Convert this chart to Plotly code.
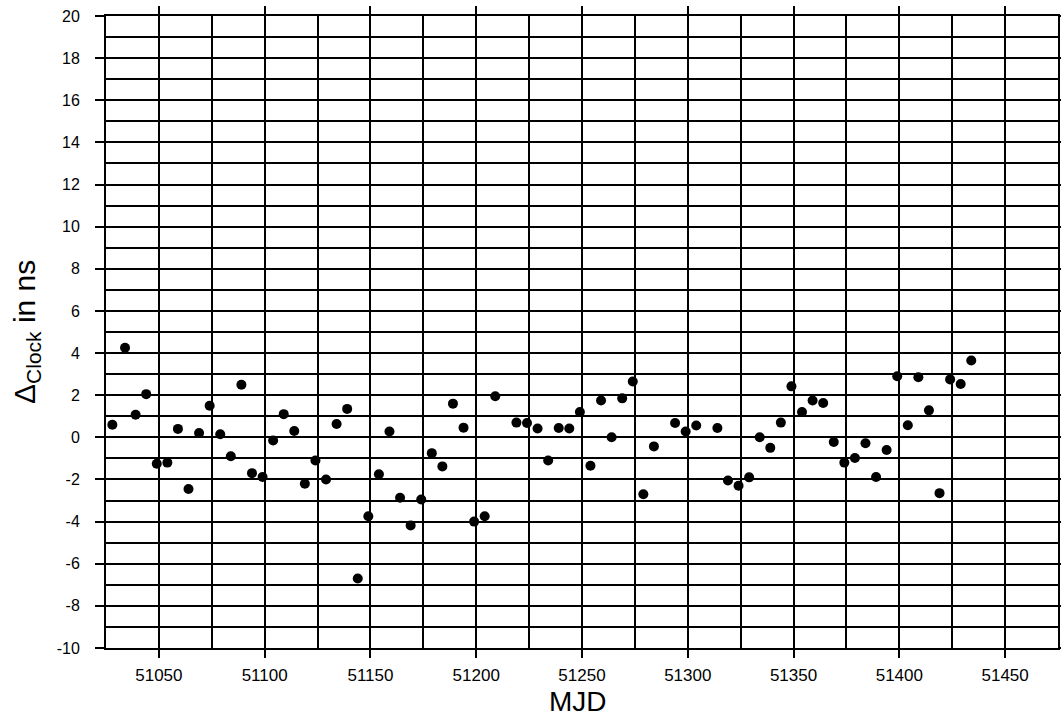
import plotly.graph_objects as go

mjd = [51028, 51034, 51039, 51044, 51049, 51054, 51059, 51064, 51069, 51074,
       51079, 51084, 51089, 51094, 51099, 51104, 51109, 51114, 51119, 51124,
       51129, 51134, 51139, 51144, 51149, 51154, 51159, 51164, 51169, 51174,
       51179, 51184, 51189, 51194, 51199, 51204, 51209, 51219, 51224, 51229,
       51234, 51239, 51244, 51249, 51254, 51259, 51264, 51269, 51274, 51279,
       51284, 51294, 51299, 51304, 51314, 51319, 51324, 51329, 51334, 51339,
       51344, 51349, 51354, 51359, 51364, 51369, 51374, 51379, 51384, 51389,
       51394, 51399, 51404, 51409, 51414, 51419, 51424, 51429, 51434]
dclock = [0.6, 4.25, 1.07, 2.05, -1.25, -1.2, 0.4, -2.45, 0.2, 1.5,
          0.15, -0.9, 2.5, -1.7, -1.88, -0.15, 1.1, 0.3, -2.2, -1.1,
          -2.0, 0.63, 1.35, -6.7, -3.75, -1.75, 0.28, -2.87, -4.18, -2.95,
          -0.75, -1.38, 1.6, 0.46, -4.0, -3.75, 1.95, 0.7, 0.68, 0.42,
          -1.1, 0.44, 0.42, 1.2, -1.35, 1.75, 0.0, 1.85, 2.65, -2.7,
          -0.43, 0.68, 0.28, 0.56, 0.44, -2.05, -2.3, -1.9, 0.0, -0.5,
          0.7, 2.42, 1.2, 1.75, 1.63, -0.22, -1.2, -0.98, -0.28, -1.88,
          -0.6, 2.9, 0.57, 2.85, 1.28, -2.65, 2.75, 2.53, 3.65]

x_ticks = [51050, 51100, 51150, 51200, 51250, 51300, 51350, 51400, 51450]
y_ticks = list(range(-10, 21, 2))
x_title = "MJD"
y_title = "Δ<sub>Clock</sub> in ns"

fig = go.Figure()
fig.add_trace(go.Scatter(
    x=mjd, y=dclock, mode="markers",
    marker=dict(color="black", size=10),
    showlegend=False, cliponaxis=False,
))

font_family = "Liberation Sans, Arial, Helvetica, sans-serif"

fig.update_layout(
    width=1061, height=719,
    margin=dict(l=106, r=3, t=16, b=71),
    paper_bgcolor="white", plot_bgcolor="white",
    font=dict(family=font_family, color="black", size=17),
    xaxis=dict(
        range=[51025, 51475],
        automargin=False,
        tickvals=x_ticks, ticktext=[str(v) for v in x_ticks],
        ticks="outside", ticklen=8, tickwidth=1.5, tickcolor="black",
        showgrid=True, gridcolor="black", gridwidth=1.5,
        minor=dict(dtick=25, tick0=51025, showgrid=True, gridcolor="black",
                   gridwidth=1.5, ticks=""),
        showline=True, linecolor="black", linewidth=2, mirror="ticks",
        zeroline=False,
        tickfont=dict(size=17),
        ticklabelstandoff=3,
    ),
    yaxis=dict(
        range=[-10, 20],
        automargin=False,
        tickvals=y_ticks, ticktext=[str(v) for v in y_ticks],
        ticks="outside", ticklen=9, tickwidth=1.5, tickcolor="black",
        showgrid=True, gridcolor="black", gridwidth=2,
        minor=dict(dtick=1, tick0=0, showgrid=True, gridcolor="black",
                   gridwidth=2, ticks=""),
        showline=True, linecolor="black", linewidth=2, mirror="ticks",
        zeroline=False,
        tickfont=dict(size=16),
        ticklabelstandoff=12,
    ),
    annotations=[
        dict(text=x_title, xref="paper", yref="paper", x=0.5, y=0,
             xanchor="center", yanchor="middle", xshift=-4, yshift=-53,
             showarrow=False, font=dict(size=28)),
        dict(text=y_title, xref="paper", yref="paper", x=0, y=0.5,
             xanchor="center", yanchor="middle", xshift=-80, yshift=0,
             textangle=-90, showarrow=False, font=dict(size=30)),
    ],
)

fig.write_html("out.html")
